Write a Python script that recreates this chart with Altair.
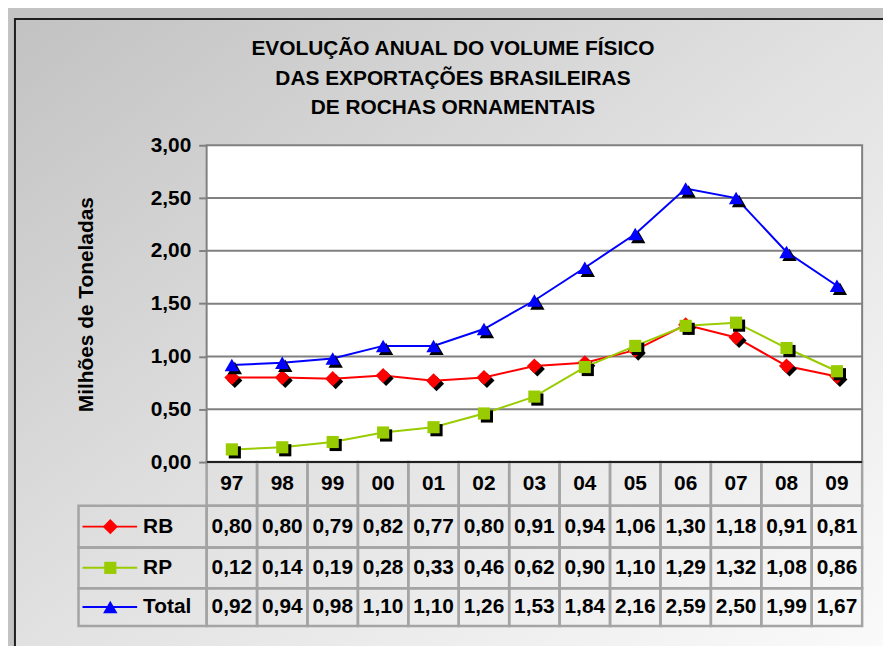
import altair as alt
import pandas as pd

# ---------------- data ----------------
years = ["97", "98", "99", "00", "01", "02", "03", "04", "05", "06", "07", "08", "09"]
rb = [0.80, 0.80, 0.79, 0.82, 0.77, 0.80, 0.91, 0.94, 1.06, 1.30, 1.18, 0.91, 0.81]
rp = [0.12, 0.14, 0.19, 0.28, 0.33, 0.46, 0.62, 0.90, 1.10, 1.29, 1.32, 1.08, 0.86]
total = [0.92, 0.94, 0.98, 1.10, 1.10, 1.26, 1.53, 1.84, 2.16, 2.59, 2.50, 1.99, 1.67]
series_names = ["RB", "RP", "Total"]
series_values = [rb, rp, total]
series_colors = ["#ff0000", "#99cc00", "#0000ff"]
series_shapes = ["diamond", "square", "triangle-up"]
series_sizes = [230, 150, 210]
y_ticks = [0.0, 0.5, 1.0, 1.5, 2.0, 2.5, 3.0]
grid_values = [0.5, 1.0, 1.5, 2.0, 2.5]
title_lines = ["EVOLUÇÃO ANUAL DO VOLUME FÍSICO",
               "DAS EXPORTAÇÕES BRASILEIRAS",
               "DE ROCHAS ORNAMENTAIS"]
y_title = "Milhões de Toneladas"

FONT = "Liberation Sans"

# ---------------- layout ----------------
W = 660
PLOT_H = 319
ROW_PX = [44, 42, 41, 38]          # header, RB, RP, Total
H = PLOT_H + sum(ROW_PX)
YMAX = 3.0
UNIT = PLOT_H / YMAX
YMIN = YMAX - H / UNIT
bounds = [0.0]
for r in ROW_PX:
    bounds.append(bounds[-1] - r / UNIT)

n = len(years)
XS = alt.Scale(domain=[0, n], nice=False, zero=False)
YS = alt.Scale(domain=[YMIN, YMAX], nice=False, zero=False)
Y_AX = alt.Axis(values=y_ticks, grid=False, domain=False, tickSize=8, tickWidth=2,
                tickColor="#808080", labelFont=FONT, labelFontSize=21,
                labelFontWeight="bold", labelColor="black", labelPadding=8,
                labelExpr="replace(format(datum.value, '.2f'), '.', ',')",
                title=y_title, titleFont=FONT, titleFontSize=21, titleFontWeight="bold",
                titleColor="black", titleX=-121, titleY=160, titleAngle=270,
                titleAlign="center", titleBaseline="middle", zindex=1)


def fmt(v):
    return f"{v:.2f}".replace(".", ",")


# table frames
cells = []
for i in range(n):
    cells.append({"x0": i, "x1": i + 1, "y0": bounds[0], "y1": bounds[1]})
    for k in range(3):
        cells.append({"x0": i, "x1": i + 1, "y0": bounds[k + 1], "y1": bounds[k + 2]})
df_cells = pd.DataFrame(cells)

df_head = pd.DataFrame({"x": [i + 0.5 for i in range(n)],
                        "ym": [(bounds[0] + bounds[1]) / 2] * n,
                        "t": years})

vals = []
for k, (name, arr) in enumerate(zip(series_names, series_values)):
    for i, v in enumerate(arr):
        vals.append({"x": i + 0.5, "ym": (bounds[k + 1] + bounds[k + 2]) / 2,
                     "t": fmt(v)})
df_vals = pd.DataFrame(vals)

df_leg = pd.DataFrame({"name": series_names,
                       "y0": [bounds[k + 1] for k in range(3)],
                       "y1": [bounds[k + 2] for k in range(3)],
                       "ym": [(bounds[k + 1] + bounds[k + 2]) / 2 for k in range(3)]})

df_grid = pd.DataFrame({"g": grid_values})
df_box = pd.DataFrame({"x0": [0], "x1": [n], "y0": [0.0], "y1": [YMAX]})

layers = []

# background frame with gradient
grad = alt.Gradient(gradient="linear",
                    stops=[alt.GradientStop(color="#c2c2c2", offset=0),
                           alt.GradientStop(color="#e2e2e2", offset=0.5),
                           alt.GradientStop(color="#fbfbfb", offset=1)],
                    x1=0, y1=0, x2=1, y2=1)
layers.append(alt.Chart(df_box).mark_rect(fill=grad, stroke="#1e1e1e", strokeWidth=2).encode(
    x=alt.value(-193), x2=alt.value(700), y=alt.value(-127), y2=alt.value(520)))

# title (three centered lines)
layers.append(alt.Chart(df_box).mark_text(font=FONT, fontSize=21, fontWeight="bold",
                                          color="black", align="center",
                                          baseline="alphabetic", lineHeight=30).encode(
    x=alt.value(248), y=alt.value(-91), text=alt.value(title_lines)))

# plot area
layers.append(alt.Chart(df_box).mark_rect(fill="white", stroke="#808080", strokeWidth=2).encode(
    x=alt.X("x0:Q", scale=XS, axis=None), x2="x1",
    y=alt.Y("y0:Q", scale=YS, axis=Y_AX), y2="y1"))

layers.append(alt.Chart(df_grid).mark_rule(color="#808080", strokeWidth=2).encode(
    x=alt.value(0), x2=alt.value(W),
    y=alt.Y("g:Q", scale=YS, axis=Y_AX)))

# table cells
layers.append(alt.Chart(df_cells).mark_rect(fillOpacity=0, stroke="#a4a4a4", strokeWidth=2.5).encode(
    x=alt.X("x0:Q", scale=XS, axis=None), x2="x1",
    y=alt.Y("y0:Q", scale=YS, axis=Y_AX), y2="y1"))
layers.append(alt.Chart(df_leg).mark_rect(fillOpacity=0, stroke="#a4a4a4", strokeWidth=2.5).encode(
    x=alt.value(-129), x2=alt.value(0),
    y=alt.Y("y0:Q", scale=YS, axis=Y_AX), y2="y1"))

# bottom line of plot
layers.append(alt.Chart(df_box).mark_rule(color="#202020", strokeWidth=2).encode(
    x=alt.X("x0:Q", scale=XS, axis=None), x2="x1",
    y=alt.Y("y0:Q", scale=YS, axis=Y_AX)))

txt = dict(font=FONT, fontSize=21, fontWeight="bold", color="black",
           align="center", baseline="middle")
layers.append(alt.Chart(df_head).mark_text(**txt).encode(
    x=alt.X("x:Q", scale=XS, axis=None), y=alt.Y("ym:Q", scale=YS, axis=Y_AX), text="t:N"))
layers.append(alt.Chart(df_vals).mark_text(**txt).encode(
    x=alt.X("x:Q", scale=XS, axis=None), y=alt.Y("ym:Q", scale=YS, axis=Y_AX), text="t:N"))
layers.append(alt.Chart(df_leg).mark_text(font=FONT, fontSize=21, fontWeight="bold",
                                          color="black", align="left", baseline="middle").encode(
    x=alt.value(-64), y=alt.Y("ym:Q", scale=YS, axis=Y_AX), text="name:N"))

# series
for k, (name, arr) in enumerate(zip(series_names, series_values)):
    d = pd.DataFrame({"x": [i + 0.5 for i in range(n)], "v": arr})
    base = alt.Chart(d).encode(x=alt.X("x:Q", scale=XS, axis=None),
                               y=alt.Y("v:Q", scale=YS, axis=Y_AX))
    layers.append(base.mark_line(color=series_colors[k], strokeWidth=2))
    layers.append(base.mark_point(filled=True, opacity=1, color="black",
                                  shape=series_shapes[k], size=series_sizes[k],
                                  xOffset=3, yOffset=3))
    layers.append(base.mark_point(filled=True, opacity=1, color=series_colors[k],
                                  shape=series_shapes[k], size=series_sizes[k]))
    dl = df_leg[df_leg["name"] == name]
    lb = alt.Chart(dl).encode(y=alt.Y("ym:Q", scale=YS, axis=Y_AX))
    layers.append(lb.mark_rule(color=series_colors[k], strokeWidth=2).encode(
        x=alt.value(-125), x2=alt.value(-70)))
    layers.append(lb.mark_point(filled=True, opacity=1, color=series_colors[k],
                                shape=series_shapes[k], size=series_sizes[k]).encode(
        x=alt.value(-97)))

chart = alt.layer(*layers).properties(
    width=W, height=H,
    autosize=alt.AutoSizeParams(type="none"),
    padding={"left": 200, "top": 136, "right": 21, "bottom": 18},
    background="#c3c3c3",
).configure_view(strokeOpacity=0)

chart.save("out.html", embed_options={"renderer": "svg", "actions": False})
